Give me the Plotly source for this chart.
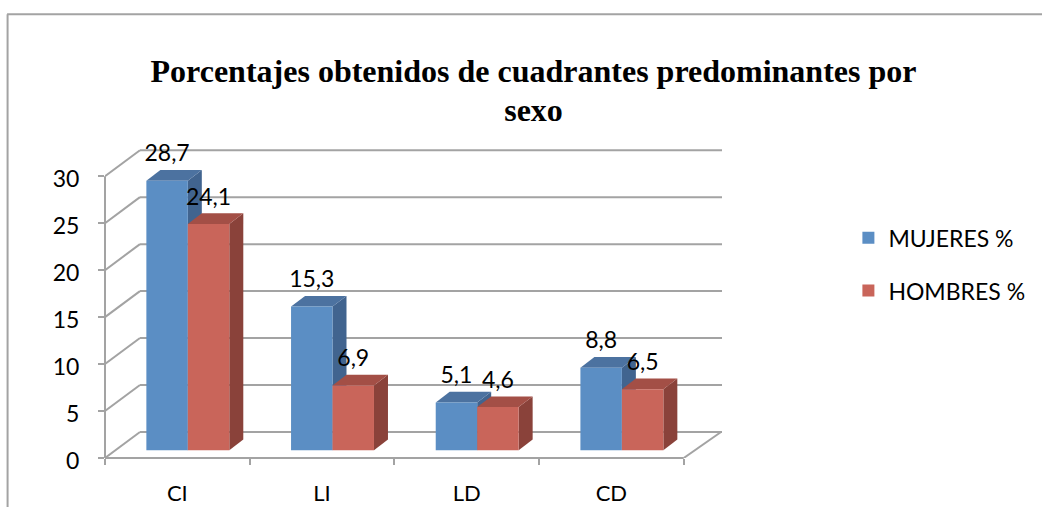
import plotly.graph_objects as go

categories = ["CI", "LI", "LD", "CD"]
mujeres = [28.7, 15.3, 5.1, 8.8]
hombres = [24.1, 6.9, 4.6, 6.5]
y_ticks = [0, 5, 10, 15, 20, 25, 30]
title_lines = ["Porcentajes obtenidos de cuadrantes predominantes por", "sexo"]

W, H = 1042, 507
LEFT, RIGHT, TOP, BOTTOM = 105, 1042 - 722.5, 147.8, 507 - 457.7
PX_X = 144.8  # px per category
PX_Y = 9.39   # px per unit
X_MAX = (722.5 - 105) / PX_X
Y_MAX = (457.7 - 147.8) / PX_Y

WALL_DX, WALL_DY = 35 / PX_X, 26 / PX_Y
RIGHT_DX = 37.3 / PX_X
BAR_DX, BAR_DY = 14 / PX_X, 10.7 / PX_Y
FLOOR = 7.7 / PX_Y
BAR_W = 41.5 / PX_X
SHIFT = 10.5 / PX_X
LABEL_UP = 25 / PX_Y

GRID = "#a3a3a3"
BLUE = ("#5b8ec4", "#4c72a0", "#41648f")
RED = ("#c9655a", "#a34f46", "#8a423a")
FONT = "Lato"


def poly(pts):
    return "M " + " L ".join(f"{x:.4f},{y:.4f}" for x, y in pts) + " Z"


shapes = []
def line(x0, y0, x1, y1, xref="x", yref="y"):
    shapes.append(dict(type="line", x0=x0, y0=y0, x1=x1, y1=y1, xref=xref, yref=yref,
                       layer="below", line=dict(color=GRID, width=2)))

# frame of the chart area
def px(xp): return (xp - LEFT) / (W - LEFT - RIGHT)
def py(yp): return 1 - (yp - TOP) / (H - TOP - BOTTOM)
line(px(7.5), py(14), px(7.5), py(H + 2), "paper", "paper")
line(px(7), py(14), px(W + 2), py(14), "paper", "paper")

# walls and floor
for v in y_ticks:
    line(0, v, WALL_DX, v + WALL_DY)
    line(WALL_DX, v + WALL_DY, X_MAX, v + WALL_DY)
line(0, 0, 0, y_ticks[-1], "paper", "y")
line(0, 0, len(categories), 0, "x", "paper")
line(len(categories), 0, len(categories) + RIGHT_DX, WALL_DY)

xs_m = [i + 0.5 + SHIFT - BAR_W / 2 for i in range(len(categories))]
xs_h = [i + 0.5 + SHIFT + BAR_W / 2 for i in range(len(categories))]


def faces(xc, v, col):
    xl, xr, t, b = xc - BAR_W / 2, xc + BAR_W / 2, FLOOR + v, FLOOR
    shapes.append(dict(type="path", layer="below", line=dict(width=0), fillcolor=col[2], xref="x", yref="y",
                       path=poly([(xr, b), (xr, t), (xr + BAR_DX, t + BAR_DY), (xr + BAR_DX, b + BAR_DY)])))
    shapes.append(dict(type="path", layer="below", line=dict(width=0), fillcolor=col[1], xref="x", yref="y",
                       path=poly([(xl, t), (xr, t), (xr + BAR_DX, t + BAR_DY), (xl + BAR_DX, t + BAR_DY)])))


for i in range(len(categories)):
    faces(xs_m[i], mujeres[i], BLUE)
    faces(xs_h[i], hombres[i], RED)

fig = go.Figure()
for name, xs, vals, col in (("MUJERES %", xs_m, mujeres, BLUE), ("HOMBRES %", xs_h, hombres, RED)):
    fig.add_trace(go.Bar(name=name, x=xs, y=vals, base=[FLOOR] * len(vals), width=BAR_W,
                         marker=dict(color=col[0], line=dict(width=0)), legendgroup=name,
                         hoverinfo="skip"))
for xs, vals in ((xs_m, mujeres), (xs_h, hombres)):
    fig.add_trace(go.Scatter(x=xs, y=[FLOOR + v + LABEL_UP for v in vals], mode="text",
                             text=[f"{v:.1f}".replace(".", ",") for v in vals],
                             textposition="middle center",
                             textfont=dict(family=FONT, size=23, color="black"),
                             showlegend=False, cliponaxis=False, hoverinfo="skip"))

title = "<br>".join(f'<span style="font-size:32px">{t}</span>' for t in title_lines)
fig.update_layout(
    width=W, height=H, autosize=False,
    margin=dict(l=LEFT, r=RIGHT, t=TOP, b=BOTTOM, pad=0, autoexpand=False),
    paper_bgcolor="white", plot_bgcolor="rgba(0,0,0,0)",
    barmode="overlay", shapes=shapes,
    font=dict(family=FONT, color="black"),
    title=dict(text=title, x=533.5 / W, xanchor="center", xref="container",
               y=1 - 82 / H, yref="container", yanchor="middle",
               font=dict(family="Liberation Serif", size=30, color="black", weight="bold")),
    legend=dict(x=px(849), y=py(216), xanchor="left", yanchor="top", bgcolor="rgba(0,0,0,0)",
                font=dict(family=FONT, size=23, color="black"), tracegroupgap=20,
                traceorder="grouped"),
    xaxis=dict(range=[0, X_MAX], tickmode="array", tickvals=[i + 0.5 for i in range(len(categories))],
               ticktext=categories, ticks="", showgrid=False, zeroline=False, showline=False,
               automargin=False, ticklabelstandoff=20, tickfont=dict(family=FONT, size=22, color="black"),
               minor=dict(tickmode="array", tickvals=list(range(len(categories) + 1)), ticks="outside",
                          ticklen=6, tickwidth=2, tickcolor=GRID, showgrid=False)),
    yaxis=dict(range=[0, Y_MAX], tickmode="array", tickvals=y_ticks, ticks="outside", ticklen=6,
               tickwidth=2, tickcolor=GRID, showgrid=False, zeroline=False, showline=False,
               automargin=False, ticklabelstandoff=14, ticklabelshift=3,
               tickfont=dict(family=FONT, size=23, color="black")),
)
fig.write_html("out.html", config=dict(displayModeBar=False),
               post_script="document.body.style.margin='0';document.body.style.overflow='hidden';")
